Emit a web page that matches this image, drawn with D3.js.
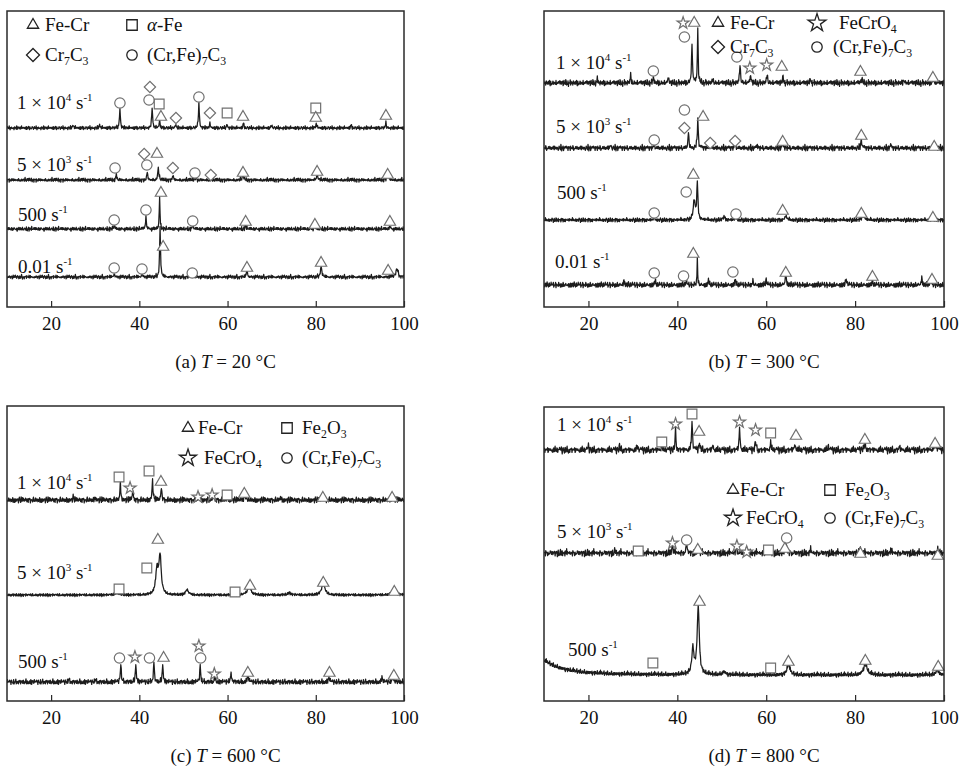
<!DOCTYPE html>
<html>
<head>
<meta charset="utf-8">
<script src="https://cdn.jsdelivr.net/npm/d3@7"></script>
<style>
body { margin: 0; background: #fff; }
svg { display: block; font-family: "Liberation Serif", "DejaVu Serif", serif; }
</style>
</head>
<body>
<div id="chart"></div>
<script>
// ---------- data (2θ in degrees, intensity in arbitrary units) ----------
const xDomain = [10, 100];
const xTicks = [20, 40, 60, 80, 100];
const captions = [["(a)", "20"], ["(b)", "300"], ["(c)", "600"], ["(d)", "800"]];
const rateText = { "1e4": ["1 × 10", "4"], "5e3": ["5 × 10", "3"], "500": ["500", null], "0.01": ["0.01", null] };

// (a) T = 20 °C
const ratesA = ["1e4", "5e3", "500", "0.01"];
const baseA = [179, 127, 78, 30];
const peaksA = [
  [[35.6, 20], [42.9, 21], [44.6, 8], [48.2, 4], [53.5, 26], [56, 4], [59.9, 4], [63.6, 5], [80.1, 4], [95.9, 5], [25, 3], [31, 3], [70, 3], [88, 3]],
  [[34.8, 6], [41.8, 8], [44.3, 12, 0.15], [47.6, 5], [52.6, 4], [63.5, 4, 0.2], [80.3, 5, 0.2], [96.3, 6, 0.2]],
  [[34.3, 4], [41.5, 12], [44.6, 32, 0.1], [52.1, 4], [64.1, 4], [79.8, 5], [96.8, 3]],
  [[34.3, 4], [40.6, 4], [44.7, 50, 0.12], [52, 3], [64.4, 7, 0.15], [81.2, 10, 0.2], [98.4, 8, 0.3]]
];
const marksA = [
  ["o", 35.6, 204], ["d", 42.4, 220], ["o", 42.2, 207], ["s", 44.5, 203], ["t", 44.9, 190], ["d", 48.3, 189], ["o", 53.5, 210],
  ["d", 56, 194], ["s", 59.9, 194], ["t", 63.5, 190], ["s", 80, 199], ["t", 80, 189], ["t", 95.9, 191],
  ["d", 41.1, 153], ["t", 44, 153], ["o", 34.5, 139], ["o", 41.7, 142], ["d", 47.6, 139], ["o", 52.6, 134], ["d", 56.2, 132],
  ["t", 63.5, 134], ["t", 80.3, 135], ["t", 96.3, 132],
  ["t", 44.9, 114], ["o", 41.5, 97], ["o", 34.3, 87], ["o", 52.1, 86], ["t", 64.1, 85], ["t", 79.8, 82], ["t", 96.8, 85],
  ["t", 45.4, 60], ["o", 34.3, 39], ["o", 40.6, 38], ["o", 52, 34], ["t", 64.4, 39], ["t", 81.2, 44], ["t", 96.4, 36]
];
const legendA = [["t", "Fe-Cr"], ["s", "α-Fe"], ["d", "Cr7C3"], ["o", "(Cr,Fe)7C3"]];

// (b) T = 300 °C
const ratesB = ["1e4", "5e3", "500", "0.01"];
const baseB = [224, 159, 87, 22];
const peaksB = [
  [[22, 4], [29.5, 8], [34.6, 6], [38, 5], [43.3, 40], [44.6, 55, 0.1], [48, 4], [54.1, 20], [56.5, 8], [60.2, 10], [63.8, 6], [70, 4], [81.5, 5], [91, 4], [97.5, 5]],
  [[25, 3], [34.8, 5], [42.5, 16], [44.6, 30, 0.12], [47.4, 6], [53, 6], [58, 3], [63.7, 5], [81.4, 8, 0.15], [88, 3], [97.8, 4]],
  [[34.8, 3], [43.8, 20, 0.25], [44.5, 37, 0.15], [50.5, 3, 0.3], [53.2, 3], [64.4, 4, 0.25], [81.8, 5, 0.3], [97.5, 3]],
  [[28, 5], [35, 5], [42, 4], [44.5, 27, 0.08], [47, 5], [53, 6], [57, 4], [60, 5], [64.4, 10, 0.15], [78, 7], [83.9, 5], [95, 8], [97, 6]]
];
const marksB = [
  ["o", 34.6, 236], ["st", 41.3, 284], ["t", 43.8, 284], ["o", 41.6, 270], ["o", 53.4, 250], ["st", 56.3, 239], ["st", 60.1, 242],
  ["t", 63.5, 240], ["t", 81.2, 235], ["t", 97.5, 229],
  ["o", 41.6, 197], ["d", 41.6, 179], ["t", 45.8, 190], ["o", 34.8, 167], ["d", 47.4, 164], ["d", 53, 166], ["t", 63.7, 165],
  ["t", 81.4, 171], ["t", 97.8, 160],
  ["t", 43.6, 132], ["o", 42, 115], ["o", 34.8, 94], ["o", 53.2, 93], ["t", 63.7, 96], ["t", 81.4, 93], ["t", 97.5, 89],
  ["t", 43.6, 53], ["o", 34.8, 34], ["o", 41.4, 31], ["o", 52.5, 35], ["t", 64.4, 34], ["t", 83.9, 30], ["t", 97.3, 27]
];
const legendB = [["t", "Fe-Cr"], ["st", "FeCrO4"], ["d", "Cr7C3"], ["o", "(Cr,Fe)7C3"]];

// (c) T = 600 °C
const ratesC = ["1e4", "5e3", "500"];
const baseC = [201, 106, 19];
const peaksC = [
  [[25, 3], [30, 3], [35.7, 17], [38.5, 10], [43, 20], [45, 13], [53.5, 6], [56.8, 6], [60, 4], [64, 5, 0.2], [72, 3], [81.8, 4, 0.2], [97.5, 5, 0.2]],
  [[35, 2, 0.5], [44, 25, 0.35], [44.7, 38, 0.3], [50.8, 5, 0.4], [64.9, 8, 0.5], [74, 2, 0.5], [81.7, 10, 0.5], [97.8, 6, 0.5]],
  [[24, 3], [30, 3], [35.8, 19], [39.2, 19], [43.3, 20], [45.3, 19], [53.8, 17], [57.2, 6], [60.8, 7, 0.2], [64.6, 6, 0.2], [83, 4, 0.2], [95, 5], [97.5, 5, 0.2]]
];
const marksC = [
  ["s", 35.4, 224], ["st", 37.9, 213], ["s", 42.2, 230], ["t", 44.9, 219], ["st", 53.3, 204], ["st", 56.5, 206], ["s", 59.9, 206],
  ["t", 63.8, 207], ["t", 81.6, 203], ["t", 97.3, 203],
  ["t", 44.2, 161], ["s", 41.7, 133], ["s", 35.4, 112], ["s", 61.7, 109], ["t", 65.1, 115], ["t", 81.7, 118], ["t", 97.8, 109],
  ["o", 35.5, 43], ["st", 39, 44], ["o", 42.3, 43], ["t", 45.5, 43], ["st", 53.5, 55], ["o", 53.9, 43], ["st", 57, 27],
  ["t", 64.6, 28], ["t", 83.1, 28], ["t", 97.7, 25]
];
const legendC = [["t", "Fe-Cr"], ["s", "Fe2O3"], ["st", "FeCrO4"], ["o", "(Cr,Fe)7C3"]];

// (d) T = 800 °C
const ratesD = ["1e4", "5e3", "500"];
const baseD = [251, 148, 26];
const peaksD = [
  [[20, 4], [27, 4], [31, 4], [36.5, 5], [39.6, 20], [43.3, 30], [45, 8], [48, 5], [54, 22], [57.6, 10], [61, 8], [66.5, 5, 0.2], [74, 4], [82.2, 5, 0.3], [90, 4], [98, 5, 0.3]],
  [[26, 3], [31.2, 3], [38.9, 10], [42.1, 12], [44.6, 6], [53.3, 7], [55.6, 5], [60.5, 4], [64.5, 10], [70, 3], [81.2, 4, 0.2], [88, 3], [98.6, 4]],
  [[7, 20, 5], [43.5, 25, 0.3], [44.7, 68, 0.28], [50.5, 3, 0.4], [65, 10, 0.4], [82.3, 11, 0.5], [98.5, 5, 0.4]]
];
const marksD = [
  ["s", 36.5, 259], ["st", 39.6, 277], ["s", 43.3, 287], ["t", 44.9, 269], ["st", 54, 279], ["st", 57.6, 271], ["s", 61, 268],
  ["t", 66.7, 265], ["t", 82.2, 261], ["t", 98, 257],
  ["s", 31.2, 150], ["st", 38.9, 158], ["o", 42.1, 161], ["t", 44.6, 151], ["st", 53.4, 155], ["st", 55.6, 149], ["s", 60.5, 151],
  ["o", 64.6, 163], ["t", 64.2, 152], ["t", 81.2, 147], ["t", 98.6, 145],
  ["t", 45, 99], ["s", 34.5, 38], ["s", 61, 33], ["t", 65, 39], ["t", 82.3, 40], ["t", 98.7, 34]
];
const legendD = [["t", "Fe-Cr"], ["s", "Fe2O3"], ["st", "FeCrO4"], ["o", "(Cr,Fe)7C3"]];

// hand-typed detector noise pattern, tiled along each scan
const ripple = [0, 2, -1, 1, -2, 3, 0, -2, 1, -1, 2, -3, 1, 0, -1, 2, -2, 3, -1, 0, 1, -2, 2, -1, 0, 3, -2, 1, -1, 2, 0,
  -3, 1, 2, -1, 0, -2, 1, 3, -1, -2, 0, 2, -1, 1, -3, 0, 2, -2, 1, 0, -1, 3, -2, 1, -1, 0, 2, -1, 1, -2];

// ---------- layout ----------
const width = 964, height = 766;
const panels = [
  { x0: 7, x1: 404, y0: 11, y1: 307, rates: ratesA, base: baseA, peaks: peaksA, marks: marksA, legend: legendA,
    noise: [0.8, 0.8, 0.8, 0.8], labelY: [204, 142, 92, 40], labelX: [17, 17, 18, 18],
    leg: { sx: [26, 125], tx: [38, 140], ry: [14, 44], size: 19, star: 100 } },
  { x0: 544, x1: 944, y0: 11, y1: 307, rates: ratesB, base: baseB, peaks: peaksB, marks: marksB, legend: legendB,
    noise: [1.2, 1.1, 0.9, 1.2], labelY: [244, 180, 114, 45], labelX: [556, 556, 557, 555],
    leg: { sx: [174, 273], tx: [186, 289], ry: [12, 36], size: 19, star: 100 } },
  { x0: 7, x1: 404, y0: 406, y1: 701, rates: ratesC, base: baseC, peaks: peaksC, marks: marksC, legend: legendC,
    noise: [1.1, 0.6, 1.1], labelY: [218, 128, 39], labelX: [17, 17, 18],
    leg: { sx: [181, 280], tx: [191, 295], ry: [22, 52], size: 19, star: 90 } },
  { x0: 544, x1: 944, y0: 407, y1: 701, rates: ratesD, base: baseD, peaks: peaksD, marks: marksD, legend: legendD,
    noise: [1.4, 1.3, 0.9], labelY: [276, 169, 51], labelX: [557, 557, 568],
    leg: { sx: [189, 286], tx: [196, 301], ry: [83, 111], size: 19, star: 90 } }
];

const symbolTypes = { t: d3.symbolTriangle, s: d3.symbolSquare, d: d3.symbolSquare, o: d3.symbolCircle, st: d3.symbolStar };
const markSize = { t: 55, s: 95, d: 64, o: 85, st: 45 };
const legendSize = { t: 55, s: 110, d: 85, o: 85 };

const svg = d3.select("#chart").append("svg")
  .attr("width", width)
  .attr("height", height);

// text with numeric subscripts and italic alpha
function richText(sel, str, size) {
  const parts = str.match(/[0-9]+|α|[^0-9α]+/g);
  let shift = 0;
  parts.forEach(p => {
    const isSub = /^[0-9]+$/.test(p);
    const want = isSub ? 4 : 0;
    const ts = sel.append("tspan").attr("dy", want - shift).text(p);
    if (isSub) ts.attr("font-size", size * 0.62);
    if (p === "α") ts.attr("font-style", "italic");
    shift = want;
  });
}

function rateLabel(g, key, x, y) {
  const [main, exp] = rateText[key];
  const t = g.append("text").attr("x", x).attr("y", y).attr("font-size", 19).attr("fill", "#111")
    .attr("xml:space", "preserve");
  t.append("tspan").text(main);
  if (exp) t.append("tspan").attr("font-size", 11).attr("dy", -8).text(exp);
  t.append("tspan").attr("dy", exp ? 8 : 0).text(" s");
  t.append("tspan").attr("font-size", 11).attr("dy", -8).text("-1");
}

function scan(base, peaks, amp, seed) {
  const n = ripple.length;
  const pts = [];
  for (let i = 0; i <= 900; i++) {
    const t = 10 + i * 0.1;
    let v = base;
    peaks.forEach(([c, h, w = 0.12]) => {
      const u = (t - c) / w;
      v += h / (1 + u * u);
    });
    v += amp * (0.6 * ripple[(i + seed) % n] + 0.5 * ripple[(i * 3 + seed * 7) % n]);
    pts.push([t, v]);
  }
  return pts;
}

panels.forEach((p, pi) => {
  const g = svg.append("g");
  const x = d3.scaleLinear().domain(xDomain).range([p.x0, p.x1]);
  const y = d3.scaleLinear().domain([0, 296]).range([p.y1, p.y1 - 296]);

  const clipId = "clip" + pi;
  g.append("clipPath").attr("id", clipId)
    .append("rect").attr("x", p.x0).attr("y", p.y0).attr("width", p.x1 - p.x0).attr("height", p.y1 - p.y0);

  const line = d3.line().x(d => x(d[0])).y(d => y(d[1]));

  // scans
  p.base.forEach((b, ti) => {
    g.append("path")
      .datum(scan(b, p.peaks[ti], p.noise[ti], pi * 17 + ti * 11))
      .attr("clip-path", `url(#${clipId})`)
      .attr("fill", "none")
      .attr("stroke", "#1c1c1c")
      .attr("stroke-width", 1.25)
      .attr("stroke-linejoin", "round")
      .attr("d", line);
  });

  // phase markers
  g.selectAll(".mark")
    .data(p.marks)
    .enter()
    .append("path")
    .attr("class", "mark")
    .attr("transform", d => `translate(${x(d[1])},${y(d[2])})` + (d[0] === "d" ? " rotate(45)" : ""))
    .attr("d", d => d3.symbol().type(symbolTypes[d[0]]).size(markSize[d[0]])())
    .attr("fill", "#fff")
    .attr("stroke", "#707070")
    .attr("stroke-width", 1.2);

  // rate labels
  p.rates.forEach((r, ti) => rateLabel(g, r, p.labelX[ti], y(p.labelY[ti]) + 6));

  // legend
  p.legend.forEach(([sym, label], li) => {
    const col = li % 2, row = Math.floor(li / 2);
    const cy = p.y0 + p.leg.ry[row];
    const size = sym === "st" ? p.leg.star : legendSize[sym];
    g.append("path")
      .attr("transform", `translate(${p.x0 + p.leg.sx[col]},${cy})` + (sym === "d" ? " rotate(45)" : ""))
      .attr("d", d3.symbol().type(symbolTypes[sym]).size(size)())
      .attr("fill", "none")
      .attr("stroke", "#222")
      .attr("stroke-width", 1.3);
    const tx = p.x0 + p.leg.tx[col] + (sym === "st" ? 6 : 0);
    const t = g.append("text").attr("x", tx).attr("y", cy + 6)
      .attr("font-size", p.leg.size).attr("fill", "#111");
    richText(t, label, p.leg.size);
  });

  // frame
  g.append("rect")
    .attr("x", p.x0).attr("y", p.y0)
    .attr("width", p.x1 - p.x0).attr("height", p.y1 - p.y0)
    .attr("fill", "none")
    .attr("stroke", "#2a2a2a")
    .attr("stroke-width", 1.5);

  // x axis
  const ax = g.append("g")
    .attr("transform", `translate(0,${p.y1})`)
    .call(d3.axisBottom(x).tickValues(xTicks).tickSizeInner(-6).tickSizeOuter(0).tickPadding(10));
  ax.select(".domain").remove();
  ax.selectAll(".tick line").attr("stroke", "#2a2a2a").attr("stroke-width", 1.2);
  ax.selectAll(".tick text")
    .attr("font-family", "Liberation Serif, DejaVu Serif, serif")
    .attr("font-size", 19)
    .attr("fill", "#111");

  // caption
  const [tag, temp] = captions[pi];
  const cap = g.append("text")
    .attr("x", (p.x0 + p.x1) / 2 + 20)
    .attr("y", p.y1 + 61)
    .attr("text-anchor", "middle")
    .attr("font-size", 19)
    .attr("fill", "#111");
  cap.append("tspan").text(tag + " ");
  cap.append("tspan").attr("font-style", "italic").text("T");
  cap.append("tspan").text(" = " + temp + " °C");
});
</script>
</body>
</html>
